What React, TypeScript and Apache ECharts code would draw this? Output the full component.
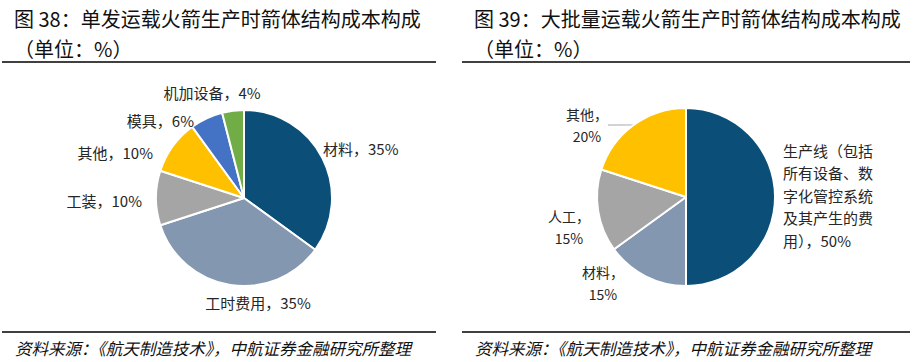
import React, { useEffect, useRef } from "react";
import * as echarts from "echarts";

const leftTitle = "图 38：单发运载火箭生产时箭体结构成本构成";
const rightTitle = "图 39：大批量运载火箭生产时箭体结构成本构成";
const unitText = "（单位：%）";
const sourceText = "资料来源：《航天制造技术》，中航证券金融研究所整理";

const leftNames = ["材料", "工时费用", "工装", "其他", "模具", "机加设备"];
const leftValues = [35, 35, 10, 10, 6, 4];
const leftColors = ["#0B4F78", "#8497B0", "#A5A5A5", "#FFC000", "#4472C4", "#70AD47"];

const rightNames = ["生产线（包括所有设备、数字化管控系统及其产生的费用）", "材料", "人工", "其他"];
const rightValues = [50, 15, 15, 20];
const rightColors = ["#0B4F78", "#8497B0", "#A5A5A5", "#FFC000"];

const FONT = "'Noto Sans CJK SC', 'Noto Sans', sans-serif";
const TEXT_COLOR = "#262626";

// label anchors [x, y, align]
const leftLabelPos: [number, number, string][] = [
  [323, 148, "left"],
  [258, 302, "center"],
  [142, 200, "right"],
  [153, 152, "right"],
  [194, 120, "right"],
  [212, 92, "center"],
];
const rightLabelPos: [number, number, string][] = [
  [783, 195, "left"],
  [603, 283, "center"],
  [569, 227, "center"],
  [587, 125, "center"],
];

function chunk(s: string, n: number): string {
  const chars = Array.from(s);
  const out: string[] = [];
  for (let i = 0; i < chars.length; i += n) out.push(chars.slice(i, i + n).join(""));
  return out.join("\n");
}

function buildOption() {
  const leftData = leftNames.map((name, i) => ({
    name,
    value: leftValues[i],
    itemStyle: { color: leftColors[i] },
  }));
  const rightData = rightNames.map((name, i) => ({
    name,
    value: rightValues[i],
    itemStyle: { color: rightColors[i] },
    labelLine: { show: name === "其他" },
    label: i === 0 ? { fontSize: 15, lineHeight: 22.5 } : {},
  }));
  const titleStyle = { fontFamily: FONT, fontSize: 20, fontWeight: "normal", color: "#111", lineHeight: 30 };
  const sourceStyle = { fontFamily: FONT, fontSize: 16.5, fontStyle: "italic", fontWeight: "normal", color: "#111", lineHeight: 20 };
  return {
    animation: false,
    backgroundColor: "#ffffff",
    title: [
      { text: leftTitle + "\n" + unitText, left: 14, top: 3, padding: 0, textStyle: titleStyle },
      { text: rightTitle + "\n" + unitText, left: 474, top: 3, padding: 0, textStyle: titleStyle },
      { text: sourceText, left: 15, top: 338, padding: 0, textStyle: sourceStyle },
      { text: sourceText, left: 475, top: 338, padding: 0, textStyle: sourceStyle },
    ],
    graphic: [
      { type: "line", shape: { x1: 2, y1: 62, x2: 436, y2: 62 }, style: { stroke: "#000", lineWidth: 1.5 } },
      { type: "line", shape: { x1: 462, y1: 62, x2: 910, y2: 62 }, style: { stroke: "#000", lineWidth: 1.5 } },
      { type: "line", shape: { x1: 2, y1: 332, x2: 436, y2: 332 }, style: { stroke: "#000", lineWidth: 1.5 } },
      { type: "line", shape: { x1: 462, y1: 332, x2: 910, y2: 332 }, style: { stroke: "#000", lineWidth: 1.5 } },
    ],
    series: [
      {
        type: "pie",
        center: [244, 198],
        radius: 88,
        startAngle: 90,
        clockwise: true,
        data: leftData,
        itemStyle: { borderColor: "#fff", borderWidth: 2 },
        label: {
          show: true,
          position: "outside",
          overflow: "none",
          fontFamily: FONT,
          fontSize: 15,
          color: TEXT_COLOR,
          formatter: (p: any) => `${p.name}，${p.value}%`,
        },
        labelLine: { show: false },
        labelLayout: (p: any) => {
          const a = leftLabelPos[p.dataIndex];
          return { x: a[0], y: a[1], align: a[2], verticalAlign: "middle" };
        },
      },
      {
        type: "pie",
        center: [686, 197],
        radius: 89,
        startAngle: 90,
        clockwise: true,
        data: rightData,
        itemStyle: { borderColor: "#fff", borderWidth: 2 },
        label: {
          show: true,
          position: "outside",
          overflow: "none",
          fontFamily: FONT,
          fontSize: 14,
          lineHeight: 22,
          color: TEXT_COLOR,
          formatter: (p: any) =>
            p.dataIndex === 0 ? chunk(`${p.name}，${p.value}%`, 6) : `${p.name}，\n${p.value}%`,
        },
        labelLine: { show: false, smooth: 0.3, lineStyle: { color: "#A6A6A6", width: 1 } },
        labelLayout: (p: any) => {
          const a = rightLabelPos[p.dataIndex];
          return { x: a[0], y: a[1], align: a[2], verticalAlign: "middle" };
        },
      },
    ],
  };
}

export default function App() {
  const ref = useRef<HTMLDivElement>(null);
  useEffect(() => {
    if (!ref.current) return;
    const chart = echarts.init(ref.current, null, { renderer: "svg" });
    chart.setOption(buildOption() as any);
    return () => chart.dispose();
  }, []);
  return (
    <div
      ref={ref}
      style={{ position: "absolute", left: 0, top: 0, width: 920, height: 362, background: "#fff" }}
    />
  );
}
